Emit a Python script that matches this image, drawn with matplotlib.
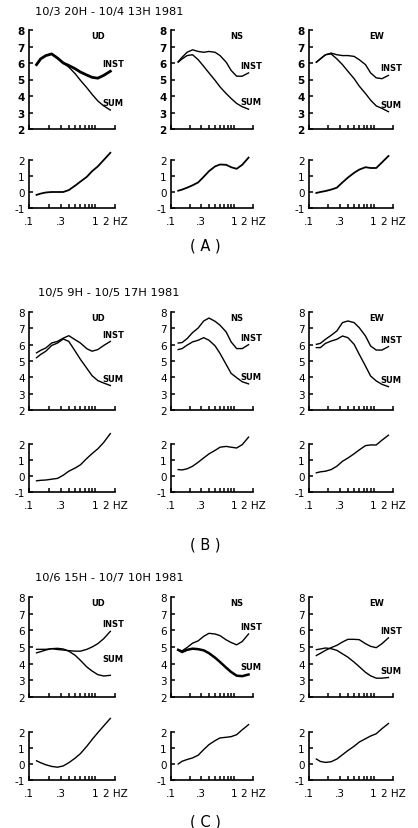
import matplotlib
matplotlib.use('Agg')
import matplotlib.pyplot as plt
from matplotlib.ticker import FixedLocator, NullFormatter

# frequencies (Hz) where curves were read
freq = [0.13, 0.15, 0.18, 0.22, 0.27, 0.33, 0.4, 0.5, 0.6, 0.75, 0.9, 1.1, 1.35, 1.7]

# group titles
titles = ['10/3 20H - 10/4 13H 1981', '10/5 9H - 10/5 17H 1981', '10/6 15H - 10/7 10H 1981']
letters = ['( A )', '( B )', '( C )']
comps = ['UD', 'NS', 'EW']

# (A)
a_ud_inst = [5.9, 6.25, 6.45, 6.55, 6.3, 6.0, 5.85, 5.65, 5.45, 5.27, 5.13, 5.08, 5.25, 5.5]
a_ud_sum = [5.9, 6.25, 6.45, 6.55, 6.3, 6.0, 5.75, 5.35, 4.95, 4.5, 4.1, 3.7, 3.4, 3.15]
a_ud_low = [-0.18, -0.1, -0.03, 0.0, 0.0, 0.0, 0.12, 0.4, 0.65, 0.95, 1.3, 1.6, 2.0, 2.45]
a_ns_inst = [6.08, 6.35, 6.65, 6.8, 6.7, 6.65, 6.7, 6.65, 6.45, 6.05, 5.55, 5.2, 5.2, 5.4]
a_ns_sum = [6.05, 6.25, 6.45, 6.5, 6.2, 5.8, 5.4, 4.95, 4.55, 4.15, 3.85, 3.55, 3.35, 3.2]
a_ns_low = [0.08, 0.15, 0.27, 0.42, 0.6, 0.95, 1.3, 1.6, 1.72, 1.7, 1.55, 1.45, 1.7, 2.15]
a_ew_inst = [6.05, 6.25, 6.5, 6.6, 6.5, 6.45, 6.45, 6.4, 6.2, 5.9, 5.4, 5.1, 5.05, 5.25]
a_ew_sum = [6.05, 6.25, 6.5, 6.55, 6.25, 5.9, 5.5, 5.05, 4.6, 4.15, 3.75, 3.4, 3.25, 3.05]
a_ew_low = [-0.06, 0.0, 0.06, 0.15, 0.27, 0.6, 0.9, 1.2, 1.4, 1.55, 1.5, 1.5, 1.85, 2.25]

# (B)
b_ud_inst = [5.5, 5.65, 5.8, 6.1, 6.2, 6.4, 6.55, 6.3, 6.1, 5.75, 5.6, 5.7, 5.95, 6.2]
b_ud_sum = [5.2, 5.4, 5.6, 5.95, 6.1, 6.35, 6.2, 5.6, 5.1, 4.55, 4.1, 3.8, 3.65, 3.5]
b_ud_low = [-0.3, -0.27, -0.25, -0.2, -0.15, 0.05, 0.3, 0.5, 0.7, 1.1, 1.4, 1.7, 2.1, 2.65]
b_ns_inst = [6.1, 6.13, 6.37, 6.74, 7.02, 7.45, 7.63, 7.43, 7.19, 6.78, 6.17, 5.76, 5.76, 6.0]
b_ns_sum = [5.7, 5.76, 5.97, 6.17, 6.27, 6.43, 6.27, 5.93, 5.46, 4.79, 4.24, 3.98, 3.73, 3.6]
b_ns_low = [0.4, 0.38, 0.45, 0.61, 0.86, 1.13, 1.38, 1.6, 1.8, 1.85, 1.8, 1.75, 1.96, 2.43]
b_ew_inst = [6.02, 6.08, 6.33, 6.57, 6.84, 7.35, 7.45, 7.35, 7.04, 6.53, 5.92, 5.67, 5.67, 5.88]
b_ew_sum = [5.82, 5.82, 6.08, 6.22, 6.33, 6.53, 6.43, 6.02, 5.41, 4.69, 4.08, 3.78, 3.57, 3.43]
b_ew_low = [0.2, 0.26, 0.3, 0.4, 0.61, 0.92, 1.12, 1.39, 1.63, 1.9, 1.94, 1.94, 2.24, 2.55]

# (C)
c_ud_inst = [4.86, 4.86, 4.86, 4.9, 4.85, 4.82, 4.78, 4.75, 4.75, 4.86, 5.0, 5.2, 5.5, 5.94]
c_ud_sum = [4.65, 4.72, 4.82, 4.9, 4.92, 4.88, 4.75, 4.5, 4.2, 3.8, 3.56, 3.34, 3.26, 3.3]
c_ud_low = [0.2, 0.08, -0.05, -0.15, -0.2, -0.12, 0.08, 0.37, 0.65, 1.11, 1.53, 1.96, 2.38, 2.85]
c_ns_inst = [4.83, 4.77, 4.97, 5.23, 5.37, 5.64, 5.82, 5.78, 5.68, 5.43, 5.27, 5.13, 5.33, 5.78]
c_ns_sum = [4.83, 4.7, 4.83, 4.9, 4.87, 4.8, 4.63, 4.36, 4.1, 3.76, 3.5, 3.28, 3.25, 3.35]
c_ns_low = [0.0, 0.17, 0.28, 0.38, 0.55, 0.9, 1.21, 1.46, 1.63, 1.67, 1.71, 1.83, 2.14, 2.46]
c_ew_inst = [4.49, 4.62, 4.8, 4.96, 5.1, 5.3, 5.46, 5.46, 5.44, 5.2, 5.04, 4.96, 5.2, 5.55]
c_ew_sum = [4.84, 4.88, 4.94, 4.9, 4.8, 4.59, 4.39, 4.09, 3.82, 3.48, 3.27, 3.13, 3.13, 3.17]
c_ew_low = [0.31, 0.16, 0.1, 0.14, 0.31, 0.58, 0.84, 1.11, 1.37, 1.58, 1.75, 1.89, 2.21, 2.53]

inst = [[a_ud_inst, a_ns_inst, a_ew_inst], [b_ud_inst, b_ns_inst, b_ew_inst], [c_ud_inst, c_ns_inst, c_ew_inst]]
summ = [[a_ud_sum, a_ns_sum, a_ew_sum], [b_ud_sum, b_ns_sum, b_ew_sum], [c_ud_sum, c_ns_sum, c_ew_sum]]
low = [[a_ud_low, a_ns_low, a_ew_low], [b_ud_low, b_ns_low, b_ew_low], [c_ud_low, c_ns_low, c_ew_low]]

# layout in pixels
W, H = 418, 829
col_left = [29, 171, 309]
col_w = [86, 82, 84]
rows = [(31, 130, 161, 209), (313, 411, 445, 493), (598, 698, 733, 781)]
title_y = [12, 293, 578]
letter_y = [246, 545, 822]

fig = plt.figure(figsize=(W / 100, H / 100), dpi=100)
plt.rcParams['font.family'] = 'DejaVu Sans'


def style(ax, ylo, yhi, yt, bottom_labels, bold):
    ax.set_xscale('log')
    ax.set_xlim(0.1, 2.0)
    ax.set_ylim(ylo, yhi)
    for s in ['top', 'right']:
        ax.spines[s].set_visible(False)
    for s in ['left', 'bottom']:
        ax.spines[s].set_linewidth(1.2)
    ax.set_yticks(yt)
    ax.set_yticklabels([str(v) for v in yt], fontsize=7.5, fontweight='bold' if bold else 'normal')
    ax.xaxis.set_major_locator(FixedLocator([0.1, 0.3, 1, 2]))
    ax.xaxis.set_minor_locator(FixedLocator([0.2, 0.4, 0.5, 0.6, 0.7, 0.8, 0.9]))
    ax.xaxis.set_minor_formatter(NullFormatter())
    if bottom_labels:
        ax.set_xticklabels(['.1', '.3', '1', '2 HZ'], fontsize=7.5)
    else:
        ax.set_xticklabels([])
    ax.tick_params(axis='both', which='both', direction='in', length=3, width=1.1, pad=3)
    ax.tick_params(axis='x', pad=6)


for g in range(3):
    up_top, up_bot, lo_top, lo_bot = rows[g]
    fig.text(109 / W, 1 - title_y[g] / H, titles[g], ha='center', va='center', fontsize=8.2)
    fig.text(205 / W, 1 - letter_y[g] / H, letters[g], ha='center', va='center', fontsize=10.5)
    for c in range(3):
        l = col_left[c] / W
        w = col_w[c] / W
        ax1 = fig.add_axes([l, 1 - up_bot / H, w, (up_bot - up_top) / H])
        ax2 = fig.add_axes([l, 1 - lo_bot / H, w, (lo_bot - lo_top) / H])
        style(ax1, 2, 8, [2, 3, 4, 5, 6, 7, 8], False, g == 0)
        style(ax2, -1, 2, [-1, 0, 1, 2], True, False)

        lw_inst = 2.0 if (g == 0 and c == 0) else 1.0
        lw_sum = 1.8 if (g == 2 and c == 1) else 1.0
        ax1.plot(freq, inst[g][c], color='black', lw=lw_inst, clip_on=False)
        ax1.plot(freq, summ[g][c], color='black', lw=lw_sum, clip_on=False)
        ax2.plot(freq, low[g][c], color='black', lw=1.3 if g == 0 else 1.0, clip_on=False)

        lift = 1.0 if (g == 2 and c == 0) else 0.45
        ax1.text(1.85, inst[g][c][-1] + 0.45, 'INST', ha='center', va='center', fontsize=6, fontweight='bold')
        ax1.text(1.85, summ[g][c][-1] + lift, 'SUM', ha='center', va='center', fontsize=6, fontweight='bold')
        ax1.text(0.8, 0.94, comps[c], transform=ax1.transAxes, ha='center', va='center', fontsize=6, fontweight='bold')

fig.savefig('out.png', dpi=100, facecolor='white')
